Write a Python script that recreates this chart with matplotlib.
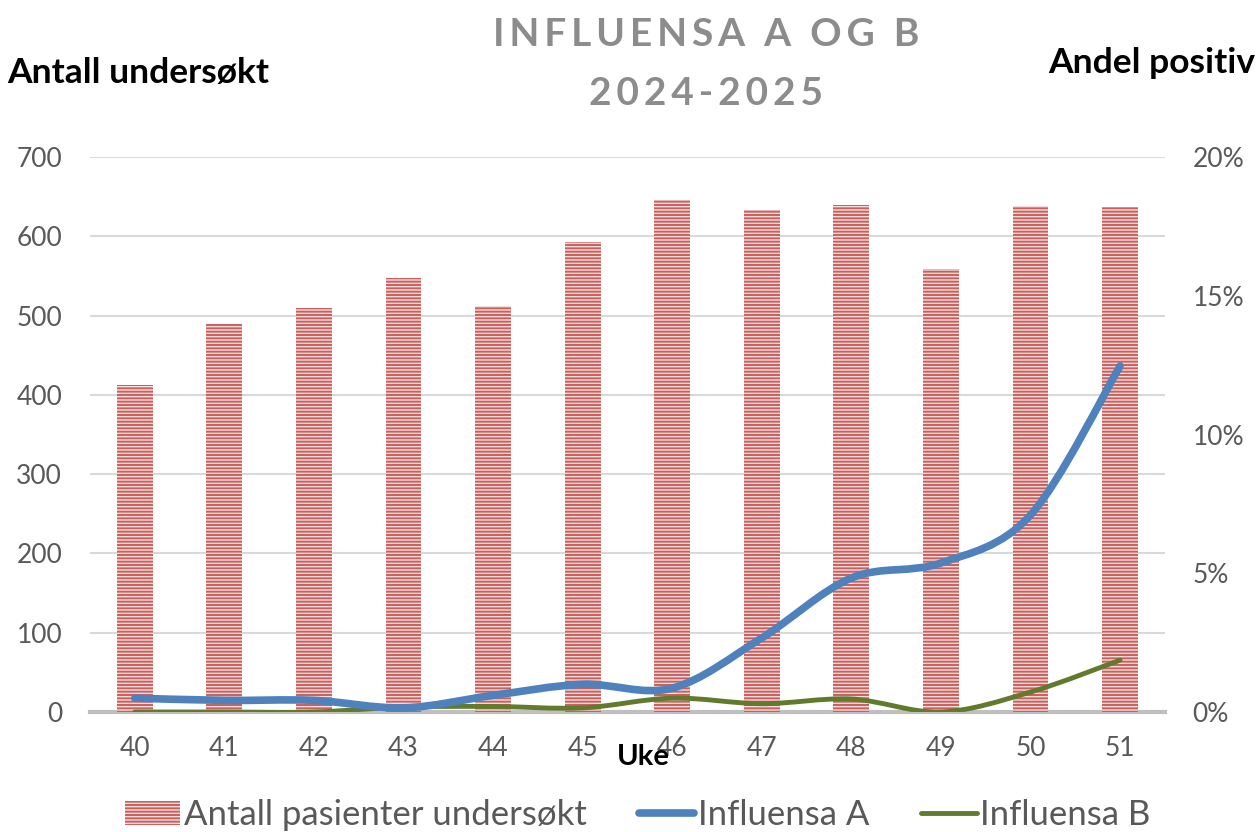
import matplotlib.pyplot as plt
from matplotlib.path import Path
from matplotlib.patches import PathPatch
from matplotlib.lines import Line2D
from matplotlib.patches import Patch
from matplotlib.ticker import FuncFormatter

# Data
uker = ["40", "41", "42", "43", "44", "45", "46", "47", "48", "49", "50", "51"]
antall = [413, 489, 509, 548, 512, 593, 646, 633, 639, 559, 638, 637]
infl_a = [0.50, 0.42, 0.42, 0.15, 0.60, 1.00, 0.86, 2.67, 4.83, 5.37, 7.10, 12.47]
infl_b = [0.0, 0.0, 0.0, 0.18, 0.20, 0.15, 0.50, 0.30, 0.47, 0.0, 0.72, 1.87]

grey = "#595959"
blue = "#4F81BD"
green = "#617A2B"

plt.rcParams['font.family'] = ['Lato', 'DejaVu Sans']
plt.rcParams['hatch.linewidth'] = 1.4


def smooth_path(xs, ys):
    # Excel-like smoothed line: Catmull-Rom segments drawn as cubic Beziers
    verts = [(xs[0], ys[0])]
    codes = [Path.MOVETO]
    n = len(xs)
    for i in range(n - 1):
        x0, y0 = (xs[i - 1], ys[i - 1]) if i > 0 else (xs[i], ys[i])
        x1, y1 = xs[i], ys[i]
        x2, y2 = xs[i + 1], ys[i + 1]
        x3, y3 = (xs[i + 2], ys[i + 2]) if i + 2 < n else (x2, y2)
        c1 = (x1 + (x2 - x0) / 6, y1 + (y2 - y0) / 6)
        c2 = (x2 - (x3 - x1) / 6, y2 - (y3 - y1) / 6)
        verts += [c1, c2, (x2, y2)]
        codes += [Path.CURVE4] * 3
    return Path(verts, codes)


def spaced(s, gap="\u2009"):
    return gap.join(s).replace(gap + " " + gap, "  ")


fig = plt.figure(figsize=(12.58, 8.32), dpi=100)
ax = fig.add_axes([0.0715, 0.1442, 0.8545, 0.6671])
x = list(range(len(uker)))

ax.bar(x, antall, width=0.4, color="#F6DCDB", edgecolor="#C9605D",
       linewidth=0, hatch="-----", zorder=2)
ax.set_xlim(-0.5, len(uker) - 0.5)
ax.set_ylim(0, 700)
ax.set_yticks(range(0, 701, 100))
ax.grid(axis="y", color="#D9D9D9", linewidth=1.5, zorder=0)
ax.set_axisbelow(True)
for s in ["top", "right", "left"]:
    ax.spines[s].set_visible(False)
ax.spines["bottom"].set_color("#BFBFBF")
ax.spines["bottom"].set_linewidth(3)
ax.spines["bottom"].set_zorder(1)
ax.set_xticks(x)
ax.set_xticklabels(uker)
ax.tick_params(axis="both", length=0, labelsize=19, labelcolor=grey)
ax.tick_params(axis="x", pad=17)
ax.tick_params(axis="y", pad=20)

ax2 = ax.twinx()
ax2.set_ylim(0, 20)
ax2.set_yticks([0, 5, 10, 15, 20])
ax2.yaxis.set_major_formatter(FuncFormatter(lambda v, p: f"{v:.0f}%"))
ax2.tick_params(axis="y", length=0, labelsize=19, labelcolor=grey, pad=20)
for s in ax2.spines.values():
    s.set_visible(False)

ax2.add_patch(PathPatch(smooth_path(x, infl_a), fill=False, edgecolor=blue,
                        linewidth=5.5, capstyle="round", zorder=4))
ax2.add_patch(PathPatch(smooth_path(x, infl_b), fill=False, edgecolor=green,
                        linewidth=3.5, capstyle="round", zorder=3))

# Titles and axis labels
fig.text(0.561, 0.958, spaced("INFLUENSA A OG B"),
         ha="center", va="center", fontsize=28, fontweight="bold", color="#8C8C8C")
fig.text(0.561, 0.888, spaced("2024-2025"),
         ha="center", va="center", fontsize=28, fontweight="bold", color="#8C8C8C")
fig.text(0.006, 0.912, "Antall undersøkt", ha="left", va="center",
         fontsize=25.5, fontweight="bold", color="black")
fig.text(0.833, 0.924, "Andel positiv", ha="left", va="center",
         fontsize=25.5, fontweight="bold", color="black")
fig.text(0.511, 0.09, "Uke", ha="center", va="center",
         fontsize=21, fontweight="bold", color="black")

handles = [
    Patch(facecolor="#F6DCDB", edgecolor="#C9605D", linewidth=0, hatch="-----"),
    Line2D([0], [0], color=blue, linewidth=5.5, solid_capstyle="round"),
    Line2D([0], [0], color=green, linewidth=3.5, solid_capstyle="round"),
]
labels = ["Antall pasienter undersøkt", "Influensa A", "Influensa B"]
fig.legend(handles, labels, loc="center", bbox_to_anchor=(0.507, 0.02), ncol=3,
           frameon=False, fontsize=25, labelcolor=grey, handlelength=1.6,
           handletextpad=0.1, columnspacing=1.5, handleheight=0.7)

fig.savefig("out.png", dpi=100)
